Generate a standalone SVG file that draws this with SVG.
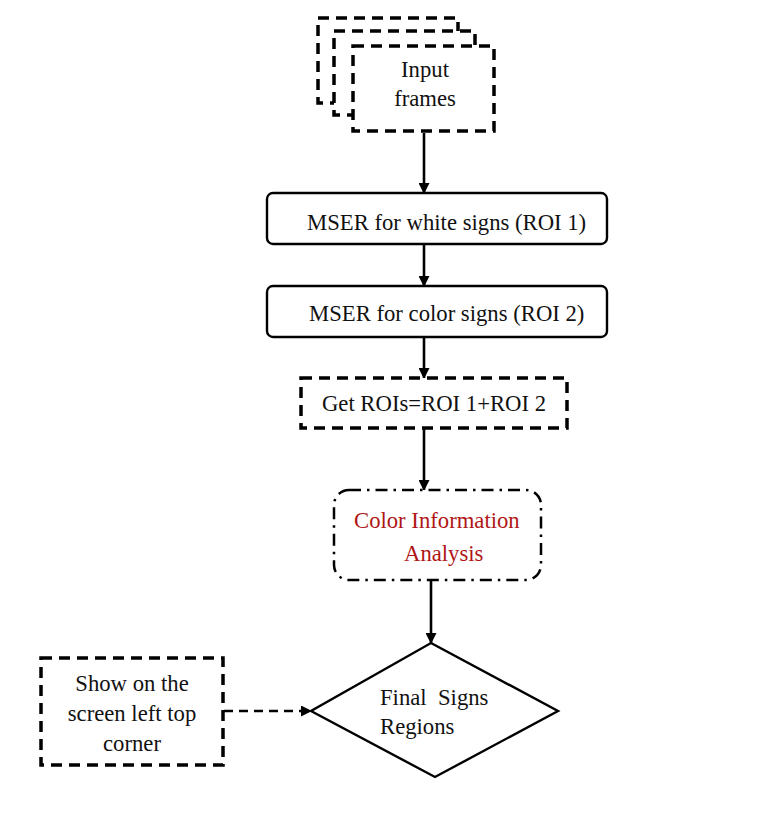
<svg xmlns="http://www.w3.org/2000/svg" width="761" height="834" viewBox="0 0 761 834">
<style>
.t{font-family:"Liberation Serif","Times New Roman",serif;font-size:22.7px;fill:#111}
.r{fill:#B01515}
.dash{fill:#fff;stroke:#000;stroke-width:3.5;stroke-dasharray:11 7}
.solid{fill:#fff;stroke:#000;stroke-width:2.4}
.dd{fill:#fff;stroke:#000;stroke-width:2.5;stroke-dasharray:12 6 2.5 6}
.c{stroke:#000;stroke-width:2.6;fill:none}
</style>
<defs>
<marker id="ah" markerWidth="11" markerHeight="11" refX="10" refY="5.5" orient="auto" markerUnits="userSpaceOnUse">
<path d="M0,0 L11,5.5 L0,11 Z" fill="#000"/>
</marker>
</defs>
<rect width="761" height="834" fill="#fff"/>
<g id="connectors">
<line class="c" x1="424" y1="133" x2="424" y2="193" marker-end="url(#ah)"/>
<line class="c" x1="424" y1="244" x2="424" y2="286" marker-end="url(#ah)"/>
<line class="c" x1="424" y1="337" x2="424" y2="378" marker-end="url(#ah)"/>
<line class="c" x1="424" y1="429" x2="424" y2="490" marker-end="url(#ah)"/>
<line class="c" x1="431" y1="581" x2="431" y2="643" marker-end="url(#ah)"/>
<line class="c" x1="224" y1="711" x2="311" y2="711" stroke-dasharray="9 6" marker-end="url(#ah)"/>
</g>
<g id="input-frames">
<rect class="dash" x="318" y="18" width="140" height="85"/>
<rect class="dash" x="334" y="31" width="141" height="84"/>
<rect class="dash" x="353" y="46" width="141" height="85"/>
<text class="t" x="425" y="77" text-anchor="middle">Input</text>
<text class="t" x="425" y="106" text-anchor="middle">frames</text>
</g>
<g id="mser-white">
<rect class="solid" x="267" y="193" width="340" height="51" rx="6"/>
<text class="t" x="307" y="230">MSER for white signs (ROI 1)</text>
</g>
<g id="mser-color">
<rect class="solid" x="267" y="286" width="340" height="51" rx="6"/>
<text class="t" x="309" y="321">MSER for color signs (ROI 2)</text>
</g>
<g id="get-rois">
<rect class="dash" x="301" y="378" width="266" height="50"/>
<text class="t" x="434" y="411" text-anchor="middle">Get ROIs=ROI 1+ROI 2</text>
</g>
<g id="color-info">
<rect class="dd" x="334" y="490" width="207" height="90" rx="15"/>
<text class="t r" x="354" y="528">Color Information</text>
<text class="t r" x="404" y="561">Analysis</text>
</g>
<g id="final-signs">
<polygon class="solid" points="431,643 558,711 435,777 311,711"/>
<text class="t" x="380" y="705" xml:space="preserve">Final  Signs</text>
<text class="t" x="380" y="734">Regions</text>
</g>
<g id="show-screen">
<rect class="dash" x="41" y="658" width="182" height="107"/>
<text class="t" x="132" y="691" text-anchor="middle">Show on the</text>
<text class="t" x="132" y="721" text-anchor="middle">screen left top</text>
<text class="t" x="132" y="751" text-anchor="middle">corner</text>
</g>
</svg>
